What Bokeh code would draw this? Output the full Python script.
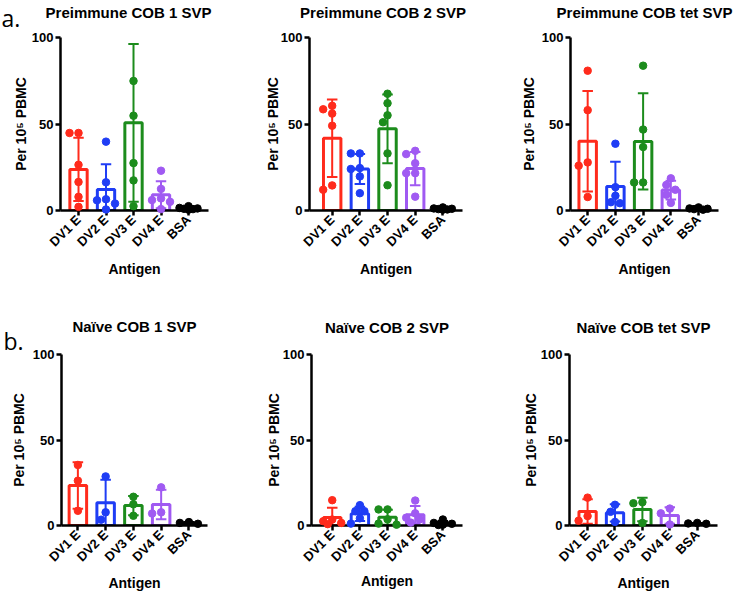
import numpy as np
from bokeh.plotting import figure
from bokeh.models import Range1d, FixedTicker
from bokeh.core.properties import value
from bokeh.layouts import row, column
from bokeh.embed import file_html
from bokeh.resources import INLINE

categories = ["DV1 E", "DV2 E", "DV3 E", "DV4 E", "BSA"]
colors = ["#FF2B1C", "#1F3DF5", "#1C8C1C", "#A05AF2", "#000000"]
y_ticks = [0, 50, 100]

# values per antigen (Per 10^5 PBMC)
pre_cob1 = [[44.8, 44.8, 26.4, 16.5, 7.9, 2.1],
            [39.8, 16.3, 6.5, 5.9, 4.0, 0.6],
            [127.0, 74.9, 54.8, 27.4, 17.4, 2.5],
            [23.0, 12.5, 7.0, 6.0, 5.0, 0.8],
            [2.5, 1.5, 1.2, 1.0, 0.8, 0.5]]
pre_cob2 = [[60.5, 58.5, 56.0, 49.0, 14.5, 12.0],
            [33.0, 33.0, 24.5, 24.0, 19.7, 10.0],
            [67.5, 62.0, 55.0, 51.0, 33.0, 14.6],
            [34.5, 32.6, 27.3, 21.6, 21.6, 8.0],
            [1.8, 1.2, 1.0, 0.8, 0.6, 0.5]]
pre_tet = [[80.8, 58.0, 27.8, 25.9, 7.8],
           [38.6, 13.5, 8.5, 4.8, 4.2],
           [83.7, 46.8, 36.7, 16.2, 16.2],
           [18.6, 14.8, 12.0, 9.1, 4.4],
           [1.8, 1.2, 1.0, 0.8, 0.5]]
naive_cob1 = [[35.4, 26.2, 8.6],
              [28.7, 7.7, 3.4],
              [16.8, 12.4, 5.7],
              [22.3, 7.7, 7.0],
              [2.0, 1.5, 1.0]]
naive_cob2 = [[14.8, 3.5, 2.5, 1.5, 0.8],
              [11.9, 8.4, 8.4, 4.2, 1.1],
              [9.4, 9.4, 3.6, 1.1, 0.5],
              [14.6, 7.1, 4.6, 3.6, 1.7],
              [3.5, 1.5, 1.0, 0.5, 0.3]]
naive_tet = [[16.3, 5.5, 2.8],
             [12.1, 8.0, 2.1],
             [13.6, 13.0, 1.5],
             [9.9, 7.1, 0.6],
             [1.5, 1.2, 1.0]]

titles = ["Preimmune COB 1 SVP", "Preimmune COB 2 SVP", "Preimmune COB tet SVP",
          "Na\u00efve COB 1 SVP", "Na\u00efve COB 2 SVP", "Na\u00efve COB tet SVP"]
y_label = "Per 10\u2075 PBMC"
x_label = "Antigen"

FONT = "Liberation Sans"


def swarm_offsets(vals, ppu_y, ppu_x, d=7.5):
    vals = list(vals)
    order = sorted(range(len(vals)), key=lambda i: -vals[i])
    placed = []
    offs = [0.0] * len(vals)
    cands = [0, -0.6, 0.6, -1.2, 1.2]
    for i in order:
        vy = vals[i] * ppu_y
        best, best_d = 0.0, -1.0
        chosen = None
        for c in cands:
            dx = c * d
            md = min([((dx - px) ** 2 + (vy - py) ** 2) ** 0.5 for px, py in placed] or [1e9])
            if md >= d:
                chosen = dx
                break
            if md > best_d:
                best, best_d = dx, md
        if chosen is None:
            chosen = best
        placed.append((chosen, vy))
        offs[i] = chosen / ppu_x
    return offs


def panel(data, title, fw, fh, bl, br, bt, bb, xs, xe, title_dy, ylab_dx, xlab_dy, title_dx=0):
    p = figure(width=fw, height=fh, x_range=Range1d(xs, xe), y_range=Range1d(0, 100),
               output_backend="svg", toolbar_location=None,
               min_border_left=bl, min_border_right=br, min_border_top=bt, min_border_bottom=bb)
    p.xgrid.grid_line_color = None
    p.ygrid.grid_line_color = None
    p.outline_line_color = None

    frame_w = fw - bl - br
    frame_h = fh - bt - bb
    ppu_x = frame_w / (xe - xs)
    ppu_y = frame_h / 100.0
    xc = (xs + xe) / 2.0

    xpos = list(range(len(categories)))
    means = [float(np.mean(v)) for v in data]
    sds = [float(np.std(v, ddof=1)) for v in data]

    p.vbar(x=xpos, top=means, bottom=0, width=0.63, fill_color=None,
           line_color=colors, line_width=3)
    lo = [m - s for m, s in zip(means, sds)]
    hi = [m + s for m, s in zip(means, sds)]
    p.segment(x0=xpos, y0=lo, x1=xpos, y1=hi, line_color=colors, line_width=2)
    cw = 0.19
    p.segment(x0=[x - cw for x in xpos], y0=hi, x1=[x + cw for x in xpos], y1=hi,
              line_color=colors, line_width=2)
    p.segment(x0=[x - cw for x in xpos], y0=lo, x1=[x + cw for x in xpos], y1=lo,
              line_color=colors, line_width=2)

    px, py, pc = [], [], []
    for i, vals in enumerate(data):
        offs = swarm_offsets(vals, ppu_y, ppu_x)
        for v, o in zip(vals, offs):
            if v <= 100:
                px.append(i + o)
                py.append(v)
                pc.append(colors[i])
    p.scatter(px, py, size=7.5, fill_color=pc, line_color=pc, level="overlay")

    for ax in (p.xaxis[0], p.yaxis[0]):
        ax.axis_line_width = 2.5
        ax.major_tick_line_width = 2.5
        ax.major_tick_in = 0
        ax.major_tick_out = 5
        ax.minor_tick_line_color = None
        ax.major_label_text_font = FONT
        ax.major_label_text_font_size = "13px"
        ax.major_label_text_font_style = "bold"
        ax.major_label_text_color = "black"
        ax.major_label_standoff = 2

    p.yaxis.ticker = FixedTicker(ticks=y_ticks)
    p.xaxis.ticker = FixedTicker(ticks=xpos)
    p.xaxis.major_label_overrides = {i: c for i, c in enumerate(categories)}
    p.xaxis.major_label_orientation = np.pi / 4

    # title
    p.text(x=[xc + title_dx / ppu_x], y=[100 + title_dy / ppu_y], text=[title],
           text_font=value(FONT), text_font_size="15px", text_font_style="bold",
           text_align="center", text_baseline="middle", text_color="black", level="overlay")
    # y axis label
    p.text(x=[xs - ylab_dx / ppu_x], y=[50], text=[y_label], angle=np.pi / 2,
           text_font=value(FONT), text_font_size="14px", text_font_style="bold",
           text_align="center", text_baseline="middle", text_color="black", level="overlay")
    # x axis label
    p.text(x=[xc], y=[-xlab_dy / ppu_y], text=[x_label],
           text_font=value(FONT), text_font_size="14px", text_font_style="bold",
           text_align="center", text_baseline="middle", text_color="black", level="overlay")
    return p, ppu_x, ppu_y


f1, ux1, uy1 = panel(pre_cob1, titles[0], 248, 288, 60, 40, 37, 77, -0.655, 4.727, 25, 40, 59, -6)
f2, _, _ = panel(pre_cob2, titles[1], 240, 288, 61, 26, 36, 78, -0.82, 4.71, 25, 37, 59, -3)
f3, _, _ = panel(pre_tet, titles[2], 254, 288, 82, 24, 36, 78, -0.62, 4.72, 25, 42, 59)
f4, ux4, uy4 = panel(naive_cob1, titles[3], 248, 309, 61, 41, 63, 72, -0.59, 4.67, 28, 43, 59)
f5, _, _ = panel(naive_cob2, titles[4], 240, 309, 63, 26, 66, 69, -0.75, 4.71, 27, 38, 56)
f6, _, _ = panel(naive_tet, titles[5], 254, 309, 81, 25, 66, 71, -0.66, 4.74, 27, 39, 58)

# panel letters
f1.text(x=[-0.655 - 59 / ux1], y=[100 + 20 / uy1], text=["a."], text_font=value("Open Sans"),
        text_font_size="23px", text_align="left", text_baseline="alphabetic",
        text_color="black", level="overlay")
f4.text(x=[-0.59 - 58 / ux4], y=[100 + 14 / uy4], text=["b."], text_font=value("Open Sans"),
        text_font_size="23px", text_align="left", text_baseline="alphabetic",
        text_color="black", level="overlay")

layout = column(row(f1, f2, f3), row(f4, f5, f6))
open("out.html", "w").write(file_html(layout, INLINE))
